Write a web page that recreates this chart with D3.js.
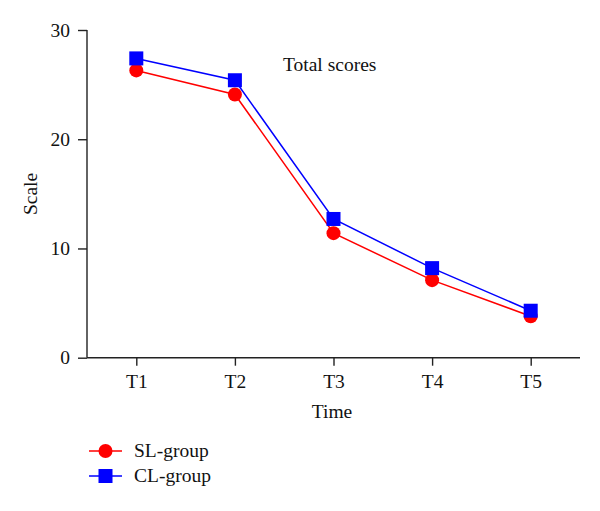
<!DOCTYPE html>
<html><head><meta charset="utf-8">
<script src="https://cdn.jsdelivr.net/npm/d3@7"></script>
<style>body{margin:0;background:#fff}svg{display:block}text{font-family:"Liberation Serif","Times New Roman",serif;fill:#111}</style>
</head><body>
<script>
const categories = ["T1","T2","T3","T4","T5"];
const slGroup = [26.3, 24.1, 11.4, 7.1, 3.8];
const clGroup = [27.4, 25.4, 12.7, 8.2, 4.3];
const yTicks = [0, 10, 20, 30];
const seriesNames = ["SL-group","CL-group"];
const seriesColors = ["#ff0000","#0000ff"];

const FS = "19.5px";
const W = 600, H = 511;
const svg = d3.select("body").append("svg").attr("width", W).attr("height", H);
const x = d3.scalePoint().domain(categories).range([87, 580]).padding(0.5);
const y = d3.scaleLinear().domain([0, 30]).range([357.7, 30]);

const xAxis = svg.append("g").attr("transform", "translate(0,357.7)")
  .call(d3.axisBottom(x).tickSize(8).tickPadding(5));
const yAxis = svg.append("g").attr("transform", "translate(87,0)")
  .call(d3.axisLeft(y).tickValues(yTicks).tickSize(9).tickPadding(8));
[xAxis, yAxis].forEach(g => {
  g.selectAll("path,line").attr("stroke", "#222").attr("stroke-width", 1.4);
  g.selectAll("text").style("font-size", FS).style("font-family", '"Liberation Serif",serif').attr("fill", "#111");
});
xAxis.selectAll("text").attr("y", 30.3).attr("dy", 0);
xAxis.select(".domain").attr("d", "M87,0H580");
yAxis.select(".domain").attr("d", "M0,30V357.7");

svg.append("text").attr("x", 332).attr("y", 418).attr("text-anchor", "middle").style("font-size", FS).text("Time");
svg.append("text").attr("transform", "translate(37,194) rotate(-90)").attr("text-anchor", "middle").style("font-size", FS).text("Scale");
svg.append("text").attr("x", 283).attr("y", 71).style("font-size", FS).text("Total scores");

const line = d3.line().x((d, i) => x(categories[i])).y(d => y(d));
const data = [slGroup, clGroup];
data.forEach((vals, s) => {
  svg.append("path").attr("d", line(vals)).attr("fill", "none")
    .attr("stroke", seriesColors[s]).attr("stroke-width", 1.5);
});
svg.selectAll("circle.sl").data(slGroup).enter().append("circle")
  .attr("cx", (d, i) => x(categories[i])).attr("cy", d => y(d)).attr("r", 7).attr("fill", seriesColors[0]);
svg.selectAll("rect.cl").data(clGroup).enter().append("rect")
  .attr("x", (d, i) => x(categories[i]) - 7).attr("y", d => y(d) - 7)
  .attr("width", 14).attr("height", 14).attr("fill", seriesColors[1]);

const lg = svg.append("g");
seriesNames.forEach((n, s) => {
  const cy = 451 + s * 25;
  lg.append("line").attr("x1", 89).attr("x2", 122).attr("y1", cy).attr("y2", cy)
    .attr("stroke", seriesColors[s]).attr("stroke-width", 1.5);
  if (s === 0) lg.append("circle").attr("cx", 105.5).attr("cy", cy).attr("r", 7).attr("fill", seriesColors[s]);
  else lg.append("rect").attr("x", 98.5).attr("y", cy - 7).attr("width", 14).attr("height", 14).attr("fill", seriesColors[s]);
  lg.append("text").attr("x", 134).attr("y", cy + 6).style("font-size", FS).text(n);
});
</script>
</body></html>
